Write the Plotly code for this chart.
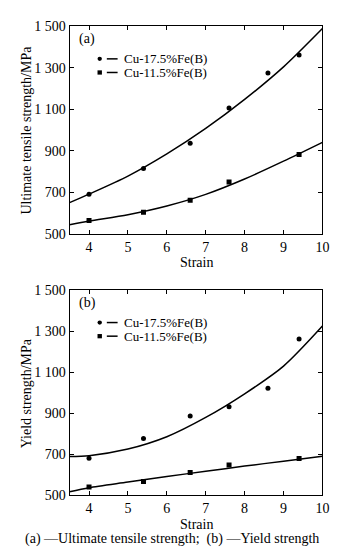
import plotly.graph_objects as go

W, H = 350, 556

# ---------------- data ----------------
x_ticks = [4, 5, 6, 7, 8, 9, 10]
x_ticktext = ["4", "5", "6", "7", "8", "9", "10"]
y_ticks = [500, 700, 900, 1100, 1300, 1500]
y_ticktext = ["500", "700", "900", "1 100", "1 300", "1 500"]

series_names = ["Cu-17.5%Fe(B)", "Cu-11.5%Fe(B)"]

# (a) Ultimate tensile strength
uts_x_175 = [4, 5.4, 6.6, 7.6, 8.6, 9.4]
uts_y_175 = [691, 815, 937, 1107, 1276, 1362]
uts_x_115 = [4, 5.4, 6.6, 7.6, 9.4]
uts_y_115 = [564, 603, 661, 749, 882]

fit_x = [3.5, 4, 5, 6, 7, 8, 9, 10]
uts_fit_175 = [650, 691, 778, 885, 1008, 1148, 1305, 1490]
uts_fit_115 = [543, 561, 592, 634, 690, 764, 850, 941]

# (b) Yield strength
ys_x_175 = [4, 5.4, 6.6, 7.6, 8.6, 9.4]
ys_y_175 = [681, 778, 887, 932, 1022, 1262]
ys_x_115 = [4, 5.4, 6.6, 7.6, 9.4]
ys_y_115 = [541, 568, 612, 648, 680]

ys_fit_175 = [690, 694, 726, 786, 880, 995, 1130, 1325]
ys_fit_115 = [518, 538, 565, 592, 618, 643, 667, 691]

panel_labels = ["(a)", "(b)"]
y_titles = ["Ultimate tensile strength/MPa", "Yield strength/MPa"]
x_title = "Strain"
caption = "(a) \u2014Ultimate tensile strength;  (b) \u2014Yield strength"

# ---------------- layout helpers ----------------
FONT = "Liberation Serif"
def px(x):
    return x / W
def py(y):
    return 1 - y / H

# plot-area pixel boxes (left, right, top, bottom)
boxes = [(71, 329, 20, 233), (71, 329, 291, 502)]

fig = go.Figure()

panels = [
    (uts_x_175, uts_y_175, uts_x_115, uts_y_115, uts_fit_175, uts_fit_115),
    (ys_x_175, ys_y_175, ys_x_115, ys_y_115, ys_fit_175, ys_fit_115),
]

line_style = dict(color="black", width=1.5, shape="spline", smoothing=0.8)

for i, (xa, ya, xb, yb, fa, fb) in enumerate(panels):
    xr = "x" if i == 0 else "x2"
    yr = "y" if i == 0 else "y2"
    fig.add_trace(go.Scatter(x=fit_x, y=fa, mode="lines", line=line_style,
                             xaxis=xr, yaxis=yr, showlegend=False, hoverinfo="skip"))
    fig.add_trace(go.Scatter(x=fit_x, y=fb, mode="lines", line=line_style,
                             xaxis=xr, yaxis=yr, showlegend=False, hoverinfo="skip"))
    fig.add_trace(go.Scatter(x=xa, y=ya, mode="markers", name=series_names[0],
                             marker=dict(symbol="circle", size=5, color="black"),
                             xaxis=xr, yaxis=yr, showlegend=False))
    fig.add_trace(go.Scatter(x=xb, y=yb, mode="markers", name=series_names[1],
                             marker=dict(symbol="square", size=5, color="black"),
                             xaxis=xr, yaxis=yr, showlegend=False))

axis_common = dict(
    showline=True, linecolor="black", linewidth=1, mirror="ticks",
    ticks="inside", ticklen=4, tickcolor="black", tickwidth=1,
    showgrid=False, zeroline=False,
    tickfont=dict(family=FONT, size=14, color="black"),
)

layout = dict(
    width=W, height=H, autosize=False,
    margin=dict(l=0, r=0, t=0, b=0),
    paper_bgcolor="white", plot_bgcolor="white",
    showlegend=False,
)

for i, (l, r, t, b) in enumerate(boxes):
    sx = "" if i == 0 else "2"
    layout["xaxis" + sx] = dict(axis_common, domain=[px(l), px(r)], range=[3.5, 10],
                                tickvals=x_ticks, ticktext=x_ticktext,
                                anchor="y" + sx)
    layout["yaxis" + sx] = dict(axis_common, domain=[py(b), py(t)], range=[500, 1500],
                                tickvals=y_ticks, ticktext=y_ticktext,
                                anchor="x" + sx)

fig.update_layout(**layout)

annotations = []
shapes = []
for i, (l, r, t, b) in enumerate(boxes):
    # panel label
    annotations.append(dict(text=panel_labels[i], x=px(79), y=py(t + 13), xref="paper", yref="paper",
                            xanchor="left", yanchor="middle", showarrow=False,
                            font=dict(family=FONT, size=14, color="black")))
    # y title
    annotations.append(dict(text=y_titles[i], x=px(27), y=py((t + b) / 2), xref="paper", yref="paper",
                            textangle=-90, xanchor="center", yanchor="middle", showarrow=False,
                            font=dict(family=FONT, size=14, color="black")))
    # x title
    annotations.append(dict(text=x_title, x=px(200), y=py(b + 30), xref="paper", yref="paper",
                            xanchor="center", yanchor="middle", showarrow=False,
                            font=dict(family=FONT, size=14, color="black")))
    # legend
    rows = [t + 33.3, t + 47.3]
    for j, yy in enumerate(rows):
        if j == 0:
            shapes.append(dict(type="circle", xref="paper", yref="paper",
                               x0=px(99.5), x1=px(104), y0=py(yy + 2.2), y1=py(yy - 2.2),
                               fillcolor="black", line=dict(width=0)))
        else:
            shapes.append(dict(type="rect", xref="paper", yref="paper",
                               x0=px(99.5), x1=px(104), y0=py(yy + 2.2), y1=py(yy - 2.2),
                               fillcolor="black", line=dict(width=0)))
        shapes.append(dict(type="line", xref="paper", yref="paper",
                           x0=px(109), x1=px(120), y0=py(yy), y1=py(yy),
                           line=dict(color="black", width=1.5)))
        annotations.append(dict(text=series_names[j], x=px(124), y=py(yy), xref="paper", yref="paper",
                                xanchor="left", yanchor="middle", showarrow=False,
                                font=dict(family=FONT, size=13, color="black")))

annotations.append(dict(text=caption, x=px(176), y=py(547), xref="paper", yref="paper",
                        xanchor="center", yanchor="middle", showarrow=False,
                        font=dict(family=FONT, size=14, color="black")))

fig.update_layout(annotations=annotations, shapes=shapes)

fig.write_html("out.html")
